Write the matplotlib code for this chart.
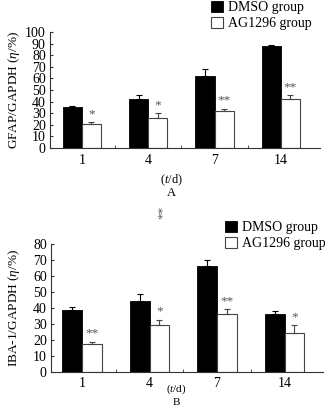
import matplotlib
matplotlib.use("Agg")
import matplotlib.pyplot as plt
import numpy as np

plt.rcParams['font.family'] = ['Liberation Serif', 'DejaVu Serif']
plt.rcParams['mathtext.fontset'] = 'custom'
plt.rcParams['mathtext.rm'] = 'Liberation Serif'
plt.rcParams['mathtext.it'] = 'Liberation Serif:italic'

days = ['1', '4', '7', '14']

# panel A: GFAP/GAPDH
gfap_dmso = [35, 42, 62, 88]
gfap_dmso_err = [1, 3.5, 6, 1.2]
gfap_ag = [20.5, 25.5, 32, 42.5]
gfap_ag_err = [1.8, 4.3, 2, 3.5]
gfap_sig = ['*', '*', '**', '**']

# panel B: IBA-1/GAPDH
iba_dmso = [38.5, 44, 66.5, 36]
iba_dmso_err = [2, 4.4, 3.6, 2]
iba_ag = [17.4, 29.3, 36.4, 24]
iba_ag_err = [1.4, 3.4, 2.8, 5.3]
iba_sig = ['**', '*', '**', '*']

GREY = '#333333'
W = 0.29

fig = plt.figure(figsize=(3.25, 4.15), dpi=100)
axA = fig.add_axes([50/325, 1-148/415, 270/325, 116/415])
axB = fig.add_axes([51/325, 1-371.7/415, 272/325, 127.7/415])


def draw(ax, dmso, dmso_err, ag, ag_err, sig, ymax, ylabel, xlim):
    x = np.arange(len(days))
    ax.bar(x - W/2, dmso, W, color='black', edgecolor='black', lw=0.6,
           label='DMSO group')
    ax.bar(x + W/2, ag, W, color='white', edgecolor='#444444', lw=0.8,
           label='AG1296 group')
    ax.errorbar(x - W/2, dmso, yerr=[np.zeros(4), dmso_err], fmt='none',
                ecolor='black', elinewidth=0.8, capsize=2, capthick=0.8)
    ax.errorbar(x + W/2, ag, yerr=[np.zeros(4), ag_err], fmt='none',
                ecolor='#444444', elinewidth=0.8, capsize=2, capthick=0.8)
    for xi, v, e, s in zip(x, ag, ag_err, sig):
        ax.text(xi + W/2, v + e + ymax*0.015, s, ha='center', va='bottom',
                fontsize=9.5, color='#555555')
    ax.set_xlim(*xlim)
    ax.set_ylim(0, ymax)
    ax.set_yticks(np.arange(0, ymax + 1, 10))
    ax.set_xticks(x)
    ax.set_xticklabels(days)
    ax.set_xticks(x[:-1] + 0.5, minor=True)
    ax.tick_params(axis='x', which='major', length=0, labelsize=10, pad=4)
    ax.tick_params(axis='x', which='minor', length=2, direction='in',
                   color=GREY)
    ax.tick_params(axis='y', length=2, direction='in', labelsize=10,
                   pad=3, color=GREY)
    for sp in ['top', 'right']:
        ax.spines[sp].set_visible(False)
    for sp in ['left', 'bottom']:
        ax.spines[sp].set_color(GREY)
        ax.spines[sp].set_linewidth(0.8)
    ax.set_ylabel(ylabel, fontsize=9.5, labelpad=2)


draw(axA, gfap_dmso, gfap_dmso_err, gfap_ag, gfap_ag_err, gfap_sig, 100,
     r'GFAP/GAPDH ($\eta$/%)', (-0.48, 3.59))
draw(axB, iba_dmso, iba_dmso_err, iba_ag, iba_ag_err, iba_sig, 80,
     r'IBA-1/GAPDH ($\eta$/%)', (-0.46, 3.57))

axA.yaxis.set_label_coords(-0.105, 0.5)
axB.yaxis.set_label_coords(-0.105, 0.5)

axA.text(0.45, -0.28, r'($\it{t}$/d)', transform=axA.transAxes,
         ha='center', va='center', fontsize=9)
axA.text(0.45, -0.39, 'A', transform=axA.transAxes,
         ha='center', va='center', fontsize=9)
axB.text(0.46, -0.14, r'($\it{t}$/d)', transform=axB.transAxes,
         ha='center', va='center', fontsize=8)
axB.text(0.46, -0.245, 'B', transform=axB.transAxes,
         ha='center', va='center', fontsize=8)

fig.text(163/325, 1-212/415, '**', rotation=90, ha='center', va='center',
         fontsize=9.5, color='#555555')

axA.legend(loc='upper left', bbox_to_anchor=(211/325, 1-1/415),
           bbox_transform=fig.transFigure, frameon=False, fontsize=10,
           handlelength=0.85, handleheight=0.85, handletextpad=0.4,
           labelspacing=0.2, borderpad=0, borderaxespad=0)
axB.legend(loc='upper left', bbox_to_anchor=(225/325, 1-221/415),
           bbox_transform=fig.transFigure, frameon=False, fontsize=10,
           handlelength=0.85, handleheight=0.85, handletextpad=0.4,
           labelspacing=0.2, borderpad=0, borderaxespad=0)

fig.savefig('out.png', dpi=100)
